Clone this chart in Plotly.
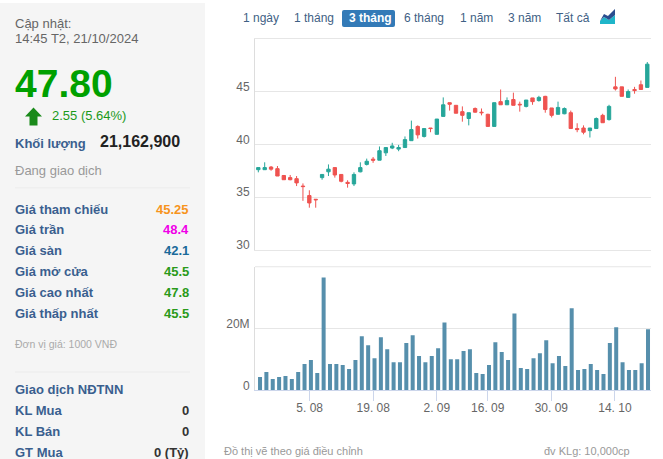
import plotly.graph_objects as go

W, H = 663, 461

# Session index along the ordinal time axis
sessions = list(range(62))
tick_sessions = [8, 18, 28, 36, 46, 56]
tick_labels = ["5. 08", "19. 08", "2. 09", "16. 09", "30. 09", "14. 10"]

opens = [37.6, 37.6, 37.85, 37.7, 37.05, 36.85, 36.75, 36.05, 35.15, 34.8,
         36.85, 37.4, 37.8, 37.15, 36.4, 36.25, 37.4, 38.1, 38.6, 38.5,
         39.2, 39.65, 39.55, 39.7, 40.35, 41.7, 40.75, 41.55, 40.95, 42.65,
         43.95, 43.7, 43.1, 42.45, 43.4, 43.05, 42.85, 41.7, 44.05, 43.75,
         44.25, 43.8, 43.6, 44.4, 44.15, 44.55, 43.45, 42.85, 42.9, 43.0,
         41.5, 41.55, 41.3, 41.5, 42.75, 42.35, 45.45, 45.45, 44.45, 45.2,
         45.65, 45.4]
highs = [37.8, 38.3, 37.95, 37.95, 37.1, 37.1, 37.0, 36.3, 35.65, 34.8,
         37.15, 38.1, 37.8, 37.15, 36.6, 37.35, 38.3, 38.65, 38.8, 39.8,
         39.7, 40.15, 39.95, 40.75, 42.25, 41.8, 41.5, 41.55, 42.4, 44.45,
         43.95, 43.7, 43.6, 43.0, 43.5, 43.4, 42.9, 43.95, 45.2, 44.45,
         44.9, 44.05, 44.2, 44.4, 44.6, 44.6, 43.45, 44.05, 43.5, 43.2,
         42.0, 41.8, 41.55, 42.55, 42.9, 43.75, 46.4, 45.45, 45.2, 45.45,
         46.05, 47.8]
lows = [37.35, 37.6, 37.5, 37.0, 36.65, 36.6, 36.05, 34.65, 34.0, 34.0,
        36.65, 37.0, 36.85, 36.4, 35.9, 36.05, 37.35, 38.0, 38.25, 38.5,
        38.9, 39.55, 39.35, 39.7, 40.35, 40.55, 40.65, 41.15, 40.95, 42.65,
        43.2, 42.95, 42.15, 41.8, 43.0, 42.75, 41.7, 41.7, 43.75, 43.75,
        43.7, 43.1, 43.5, 43.75, 44.05, 43.0, 42.55, 42.85, 42.85, 41.5,
        41.15, 40.95, 40.65, 41.5, 42.05, 42.25, 45.1, 44.55, 44.45, 44.8,
        45.2, 45.4]
closes = [37.8, 37.8, 37.65, 37.0, 36.65, 36.65, 36.35, 36.0, 34.45, 34.75,
          37.15, 37.65, 37.1, 36.5, 36.3, 37.15, 37.8, 38.4, 38.5, 39.4,
          39.7, 39.85, 39.7, 40.45, 41.4, 40.9, 41.5, 41.5, 42.4, 43.75,
          43.8, 42.95, 42.75, 43.0, 43.05, 43.0, 41.7, 43.95, 43.75, 44.15,
          43.7, 43.75, 44.2, 44.05, 44.45, 43.3, 42.75, 43.5, 43.4, 41.5,
          41.4, 41.15, 41.55, 42.45, 42.05, 43.6, 45.25, 44.55, 45.0, 45.1,
          45.2, 47.6]
volumes_m = [4.3, 5.9, 3.65, 4.3, 4.6, 3.65, 5.9, 8.5, 9.8, 5.6,
             36.55, 8.5, 8.5, 8.2, 6.9, 9.8, 17.5, 14.6, 10.4, 17.2,
             13.3, 9.1, 9.1, 15.3, 17.85, 11.1, 9.1, 11.1, 13.65, 22.0,
             10.1, 10.1, 12.7, 13.3, 5.6, 5.3, 8.2, 15.6, 12.4, 9.8,
             24.9, 7.2, 6.9, 10.4, 12.0, 16.2, 8.8, 11.1, 7.85, 26.55,
             6.55, 6.9, 8.5, 6.55, 5.3, 15.3, 20.4, 9.1, 6.55, 6.55,
             8.8, 19.8]

range_tabs = ["1 ngày", "1 tháng", "3 tháng", "6 tháng", "1 năm", "3 năm", "Tất cả"]
price_rows = [("Giá tham chiếu", "45.25", "#f7941d"), ("Giá trần", "48.4", "#f000e8"),
              ("Giá sàn", "42.1", "#1a6a9a"), ("Giá mở cửa", "45.5", "#2a9a1a"),
              ("Giá cao nhất", "47.8", "#2a9a1a"), ("Giá thấp nhất", "45.5", "#2a9a1a")]
foreign_rows = [("KL Mua", "0"), ("KL Bán", "0"), ("GT Mua", "0 (Tỷ)")]

FONT = "Liberation Sans"
LABEL = "#3a5f8f"
GRID = "#e6e6e6"
AXIS = "#ccd6eb"


def px(x):
    return x / W


def py(y):
    return 1 - y / H


fig = go.Figure()
fig.add_trace(go.Candlestick(
    x=sessions, open=opens, high=highs, low=lows, close=closes,
    xaxis="x", yaxis="y", whiskerwidth=0,
    increasing=dict(line=dict(color="#26a69a", width=1), fillcolor="#26a69a"),
    decreasing=dict(line=dict(color="#ef5350", width=1), fillcolor="#ef5350"),
    showlegend=False,
))
fig.add_trace(go.Bar(
    x=sessions, y=[v * 1e6 for v in volumes_m], xaxis="x2", yaxis="y2",
    marker=dict(color="#568fac", line=dict(width=0)), showlegend=False,
))

annotations = []


def text(x, y, s, size=12, color="#666666", anchor="left", bold=False):
    annotations.append(dict(
        x=px(x), y=py(y), xref="paper", yref="paper", text=f"<b>{s}</b>" if bold else s,
        showarrow=False, xanchor=anchor, yanchor="middle", xshift=0, yshift=0,
        font=dict(family=FONT, size=size, color=color),
        borderpad=0, borderwidth=0,
    ))


text(15, 24, "Cập nhật:", 13)
text(15, 39, "14:45 T2, 21/10/2024", 13)
text(15, 84, "47.80", 39, "#00a000", bold=True)
text(52, 116, "2.55 (5.64%)", 13, "#1a9a1a")
text(15, 144, "Khối lượng", 13, LABEL, bold=True)
text(100, 142, "21,162,900", 16, "#222222", bold=True)
text(15, 171, "Đang giao dịch", 13, "#999999")
for i, (label, value, colour) in enumerate(price_rows):
    y = 210 + 21 * i
    text(15, y, label, 13, LABEL, bold=True)
    text(189, y, value, 13, colour, "right", bold=True)
text(15, 345, "Đơn vị giá: 1000 VNĐ", 10.5, "#aaaaaa")
text(15, 391, "Giao dịch NĐTNN", 13, LABEL, bold=True)
for i, (label, value) in enumerate(foreign_rows):
    y = 412 + 21 * i
    text(15, y, label, 13, LABEL, bold=True)
    text(189, y, value, 13, "#333333", "right", bold=True)

tab_lefts = [243, 294, 349, 404, 460, 508, 556]
for left, name in zip(tab_lefts, range_tabs):
    active = name == "3 tháng"
    text(left, 18.5, name, 12, "#ffffff" if active else "#3f5f85", bold=active)

text(224, 452.5, "Đồ thị vẽ theo giá điều chỉnh", 11, "#999999")
text(630, 452.5, "đv KLg: 10,000cp", 11, "#999999", "right")


def rect(x0, y0, x1, y1, fill):
    return dict(type="rect", xref="paper", yref="paper", x0=px(x0), x1=px(x1),
                y0=py(y0), y1=py(y1), fillcolor=fill, line=dict(width=0), layer="below")


def poly(points, fill):
    path = "M " + " L ".join(f"{px(a):.5f},{py(b):.5f}" for a, b in points) + " Z"
    return dict(type="path", xref="paper", yref="paper", path=path, fillcolor=fill,
                line=dict(width=0), layer="above")


shapes = [
    rect(0, 3, 205, 461, "#f5f5f5"),
    rect(15, 188, 190, 189, "#ececec"),
    rect(15, 373, 190, 374, "#ececec"),
    rect(255, 267.5, 651, 268.5, GRID),
    dict(type="path", xref="paper", yref="paper", fillcolor="#337ab7", line=dict(width=0),
         layer="below",
         path=f"M {px(344):.5f},{py(10):.5f} L {px(393):.5f},{py(10):.5f} "
              f"Q {px(395):.5f},{py(10):.5f} {px(395):.5f},{py(12):.5f} "
              f"L {px(395):.5f},{py(25):.5f} Q {px(395):.5f},{py(27):.5f} {px(393):.5f},{py(27):.5f} "
              f"L {px(344):.5f},{py(27):.5f} Q {px(342):.5f},{py(27):.5f} {px(342):.5f},{py(25):.5f} "
              f"L {px(342):.5f},{py(12):.5f} Q {px(342):.5f},{py(10):.5f} {px(344):.5f},{py(10):.5f} Z"),
    poly([(600, 24), (615, 24), (615, 15), (609, 20), (604, 17), (600, 21)], "#1fb5c9"),
    poly([(600, 21), (604, 14), (608, 16), (615, 9), (615, 15), (609, 20), (604, 17)], "#2a4d8f"),
    poly([(33.5, 108), (42, 117), (37.5, 117), (37.5, 126), (29.5, 126), (29.5, 117), (25, 117)], "#1a8a1a"),
]

x_left, x_right = px(255), px(651)
fig.update_layout(
    width=W, height=H, autosize=False,
    margin=dict(l=0, r=0, t=0, b=0, pad=0),
    paper_bgcolor="#ffffff", plot_bgcolor="rgba(0,0,0,0)",
    font=dict(family=FONT, size=12, color="#666666"),
    boxgap=0.25, bargap=0.37,
    annotations=annotations, shapes=shapes,
    xaxis=dict(domain=[x_left, x_right], anchor="y", range=[-0.52, 61.58],
               showticklabels=False, showgrid=False, zeroline=False, ticks="",
               rangeslider=dict(visible=False), showline=True, mirror=True, linecolor=GRID),
    yaxis=dict(domain=[py(251), py(39)], anchor="x", range=[30, 50],
               tickvals=[30, 35, 40, 45, 50], ticktext=["30", "35", "40", "45", ""],
               gridcolor=GRID, gridwidth=1, zeroline=False, showline=True, linecolor="#dddddd",
               ticks="", ticklabelshift=-5, ticklabelstandoff=2,
               tickfont=dict(family=FONT, size=12, color="#666666")),
    xaxis2=dict(domain=[x_left, x_right], anchor="y2", range=[-0.79, 61.47],
                tickvals=[s - 0.2 for s in tick_sessions], ticktext=tick_labels,
                showgrid=False, zeroline=False, showline=True, linecolor=AXIS,
                ticks="outside", ticklen=10, tickcolor=AXIS, tickwidth=1, ticklabelstandoff=-4,
                tickangle=0, tickfont=dict(family=FONT, size=12, color="#666666")),
    yaxis2=dict(domain=[py(392), py(268)], anchor="x2", range=[0, 40e6],
                tickvals=[0, 20e6, 40e6], ticktext=["0", "20M", ""],
                gridcolor=GRID, gridwidth=1, zeroline=False, showline=True, linecolor="#dddddd",
                ticks="", ticklabelshift=-5, ticklabelstandoff=2,
                tickfont=dict(family=FONT, size=12, color="#666666")),
)

fig.write_html("out.html", config=dict(displayModeBar=False, responsive=False),
               default_width="663px", default_height="461px",
               post_script="document.documentElement.style.height='461px';document.body.style.margin='0';document.body.style.height='461px';document.body.style.overflow='hidden';")
